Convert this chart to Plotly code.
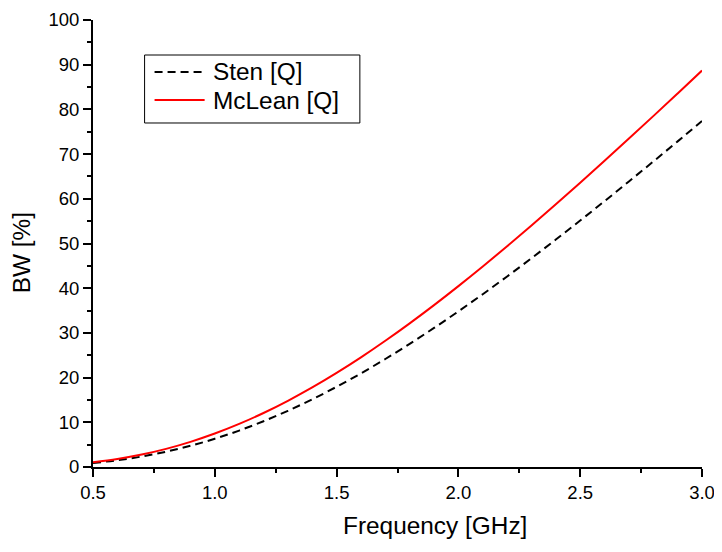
import plotly.graph_objects as go

freq = [0.5, 0.6, 0.7, 0.8, 0.9, 1.0, 1.1, 1.2, 1.3, 1.4, 1.5, 1.6, 1.7, 1.8, 1.9,
        2.0, 2.1, 2.2, 2.3, 2.4, 2.5, 2.6, 2.7, 2.8, 2.9, 3.0]
sten_bw = [0.89, 1.51, 2.35, 3.42, 4.74, 6.32, 8.15, 10.24, 12.57, 15.14, 17.94,
           20.95, 24.16, 27.55, 31.11, 34.82, 38.66, 42.63, 46.71, 50.88, 55.14,
           59.48, 63.88, 68.34, 72.85, 77.40]
mclean_bw = [1.06, 1.80, 2.79, 4.06, 5.62, 7.48, 9.63, 12.08, 14.81, 17.80, 21.05,
             24.53, 28.24, 32.14, 36.22, 40.47, 44.86, 49.38, 54.02, 58.76, 63.59,
             68.50, 73.47, 78.50, 83.58, 88.70]
series_names = ["Sten [Q]", "McLean [Q]"]
series_colors = ["black", "#ff0000"]
series_dash = ["8px,5px", "solid"]

FONT = "Liberation Sans, Arial, sans-serif"

fig = go.Figure()
for name, ys, col, dsh in zip(series_names, [sten_bw, mclean_bw], series_colors, series_dash):
    fig.add_trace(go.Scatter(x=freq, y=ys, mode="lines", name=name, showlegend=False,
                             line=dict(color=col, width=2, dash=dsh, shape="spline")))

# legend drawn as box + samples + text in paper coordinates
fig.add_shape(type="rect", xref="paper", yref="paper", x0=0.0847, x1=0.4382,
              y0=0.7696, y1=0.9217, line=dict(color="black", width=1), fillcolor="white",
              layer="above")
row_y = [0.8837, 0.8210]
for name, col, dsh, yy in zip(series_names, series_colors, series_dash, row_y):
    fig.add_shape(type="line", xref="paper", yref="paper", x0=0.1011, x1=0.1833,
                  y0=yy, y1=yy, line=dict(color=col, width=2, dash=dsh), layer="above")
    fig.add_annotation(text=name, xref="paper", yref="paper", x=0.193, y=yy,
                       xanchor="left", yanchor="middle", showarrow=False,
                       font=dict(family=FONT, size=24.4, color="black"))

# axis titles
fig.add_annotation(text="Frequency [GHz]", xref="paper", yref="paper", x=0.5617, y=-0.13,
                   xanchor="center", yanchor="middle", showarrow=False,
                   font=dict(family=FONT, size=24.4, color="black"))
fig.add_annotation(text="BW [%]", xref="paper", yref="paper", x=-0.116, y=0.479,
                   xanchor="center", yanchor="middle", showarrow=False, textangle=-90,
                   font=dict(family=FONT, size=24.4, color="black"))

axis_common = dict(showline=True, linecolor="black", linewidth=2, ticks="outside",
                   ticklen=8, tickwidth=2, tickcolor="black", showgrid=False,
                   zeroline=False, mirror=False, automargin=False,
                   tickfont=dict(family=FONT, size=18.5, color="black"))

fig.update_layout(
    width=714, height=544,
    margin=dict(l=85, r=20, t=12, b=85, autoexpand=False),
    paper_bgcolor="white", plot_bgcolor="white",
    font=dict(family=FONT, color="black"),
    xaxis=dict(range=[0.5, 3.0], dtick=0.5, tick0=0.5, tickformat=".1f",
               minor=dict(dtick=0.25, ticklen=4, tickwidth=2, tickcolor="black", ticks="outside"),
               **axis_common),
    yaxis=dict(range=[0, 100], dtick=10, tick0=0,
               minor=dict(dtick=5, ticklen=4, tickwidth=2, tickcolor="black", ticks="outside"),
               **axis_common),
    showlegend=False,
)

fig.write_html("out.html")
